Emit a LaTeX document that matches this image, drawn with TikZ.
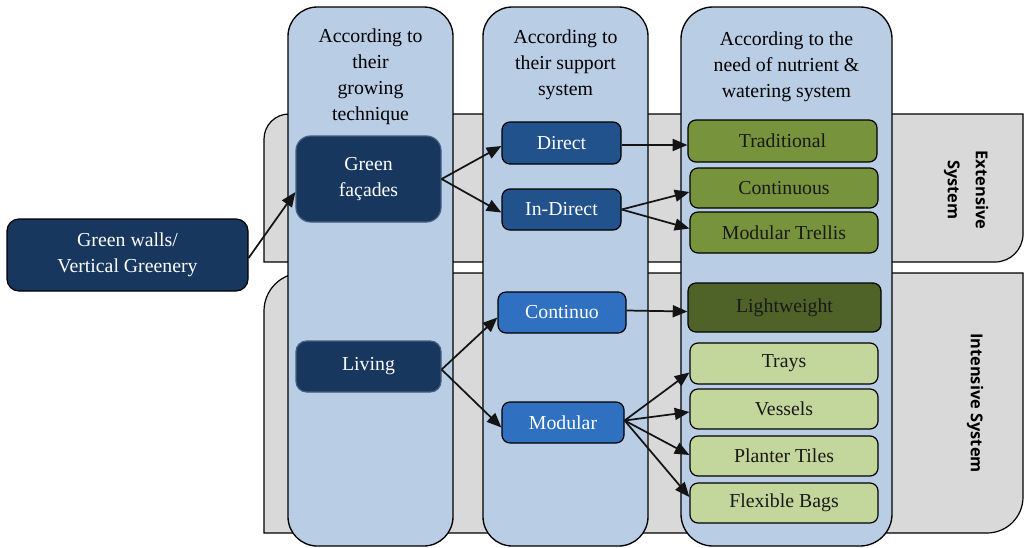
\documentclass[tikz,border=0pt]{standalone}
\usepackage{fontspec}
\setmainfont{Liberation Serif}
\newfontfamily\labfont{Open Sans}
\usetikzlibrary{arrows.meta,calc}
\definecolor{colblue}{HTML}{B9CDE5}
\definecolor{bandgray}{HTML}{D9D9D9}
\definecolor{navy}{HTML}{17375E}
\definecolor{midblue}{HTML}{22528C}
\definecolor{brightblue}{HTML}{3070C0}
\definecolor{olive}{HTML}{77933C}
\definecolor{darkolive}{HTML}{4F6228}
\definecolor{lightgreen}{HTML}{C3D69B}
\begin{document}
\begin{tikzpicture}[x=0.75pt,y=-0.75pt,
  band/.style={fill=bandgray,draw=black,line width=0.9pt},
  column/.style={fill=colblue,draw=black,line width=1pt,rounded corners=22pt},
  head/.style={align=center,inner sep=0pt,font=\fontsize{14.85}{19.5}\selectfont},
  box/.style={rounded corners=6pt,draw=black,line width=0.9pt,inner sep=0pt,align=center,font=\fontsize{14.85}{19.5}\selectfont},
  navybox/.style={box,fill=navy,text=white},
  midbox/.style={box,fill=midblue,text=white},
  brightbox/.style={box,fill=brightblue,text=white},
  olivebox/.style={box,fill=olive,text=black!90},
  darkbox/.style={box,fill=darkolive,text=black!90},
  lightbox/.style={box,fill=lightgreen,text=black!90},
  side/.style={align=center,inner sep=0pt,rotate=-90,font=\labfont\bfseries\fontsize{12.3}{21}\selectfont},
  arr/.style={line width=1.3pt,black!92,-{Triangle[length=11pt,width=9pt]}}
]
\useasboundingbox (0,0) rectangle (1024,547);
% gray bands
\path[band] (264,262) -- (264,139) .. controls (264,125.2) and (275.2,114) .. (289,114)
  -- (1023,114) -- (1023,234) .. controls (1023,249.5) and (1010.5,262) .. (995,262) -- cycle;
\path[band] (264,533) -- (264,311) .. controls (264,290) and (281,273) .. (302,273)
  -- (1023,273) -- (1023,497) .. controls (1023,516.9) and (1006.9,533) .. (987,533) -- cycle;
% columns
\path[column] (288,7) rectangle (453,546);
\path[column] (483,7) rectangle (648,546);
\path[column,rounded corners=24pt] (681,7) rectangle (892,546);
% headers
\node[head] (h1) at (370.5,77) {According to\\their\\growing\\technique};
\node[head] (h2) at (565.5,64.5) {According to\\their support\\system};
\node[head] (h3) at (786.5,67) {According to the\\need of nutrient \&\\watering system};
% side labels
\node[side] (ext) at (966,190) {Extensive\\System};
\node[side] (int) at (975,403) {Intensive System};
% nodes
\node[navybox,rounded corners=9pt,minimum width=180.75pt,minimum height=54pt] (gw) at (127.5,255) {Green walls/\\Vertical Greenery};
\node[navybox,draw=navy!80!white,rounded corners=11pt,minimum width=108.75pt,minimum height=64.5pt] (gf) at (368.5,179) {Green\\façades};
\node[navybox,draw=navy!80!white,rounded corners=8pt,minimum width=108.75pt,minimum height=38.25pt] (liv) at (368.5,366.5) {Living};
\node[midbox,minimum width=89.25pt,minimum height=31.5pt] (dir) at (561.5,143) {Direct};
\node[midbox,minimum width=89.25pt,minimum height=30.75pt] (ind) at (561.5,209.5) {In-Direct};
\node[brightbox,minimum width=96pt,minimum height=30.75pt] (con) at (562,312.5) {Continuo};
\node[brightbox,minimum width=91.5pt,minimum height=30.75pt] (mod) at (563,422.5) {Modular};
\node[olivebox,minimum width=141.75pt,minimum height=31.5pt] (tra) at (782.5,141) {Traditional};
\node[olivebox,minimum width=141pt,minimum height=30pt] (cnt) at (784,188) {Continuous};
\node[olivebox,minimum width=141pt,minimum height=30.75pt] (mtr) at (784,232.5) {Modular Trellis};
\node[darkbox,minimum width=144.75pt,minimum height=36.75pt] (lw) at (784.5,307.5) {Lightweight};
\node[lightbox,minimum width=141pt,minimum height=30.75pt] (try) at (784,363.5) {Trays};
\node[lightbox,minimum width=141pt,minimum height=30pt] (ves) at (784,409) {Vessels};
\node[lightbox,minimum width=141pt,minimum height=30pt] (pt) at (784,456) {Planter Tiles};
\node[lightbox,minimum width=141pt,minimum height=30pt] (fb) at (784,503) {Flexible Bags};
% arrows
\draw[arr] ($(gw.east)+(0,3)$) -- ($(gf.west)+(0,13)$);
\draw[arr] (gf.east) -- ($(dir.west)+(0,3)$);
\draw[arr] (gf.east) -- ($(ind.west)+(0,3)$);
\draw[arr] ($(liv.east)+(0,3)$) -- ($(con.west)+(0,5)$);
\draw[arr] ($(liv.east)+(0,3)$) -- ($(mod.west)+(0,5)$);
\draw[arr] ($(dir.east)+(0,2)$) -- ($(tra.west)+(0,4)$);
\draw[arr] (ind.east) -- ($(cnt.west)+(0,4)$);
\draw[arr] (ind.east) -- ($(mtr.west)+(0,-4)$);
\draw[arr] ($(con.east)+(0,-2)$) -- ($(lw.west)+(0,4)$);
\draw[arr] ($(mod.east)+(0,-2)$) -- ($(try.west)+(0,9)$);
\draw[arr] ($(mod.east)+(0,-2)$) -- ($(ves.west)+(0,3)$);
\draw[arr] ($(mod.east)+(0,-2)$) -- ($(pt.west)+(0,-1)$);
\draw[arr] ($(mod.east)+(0,-2)$) -- ($(fb.west)+(0,-6)$);
\end{tikzpicture}
\end{document}
